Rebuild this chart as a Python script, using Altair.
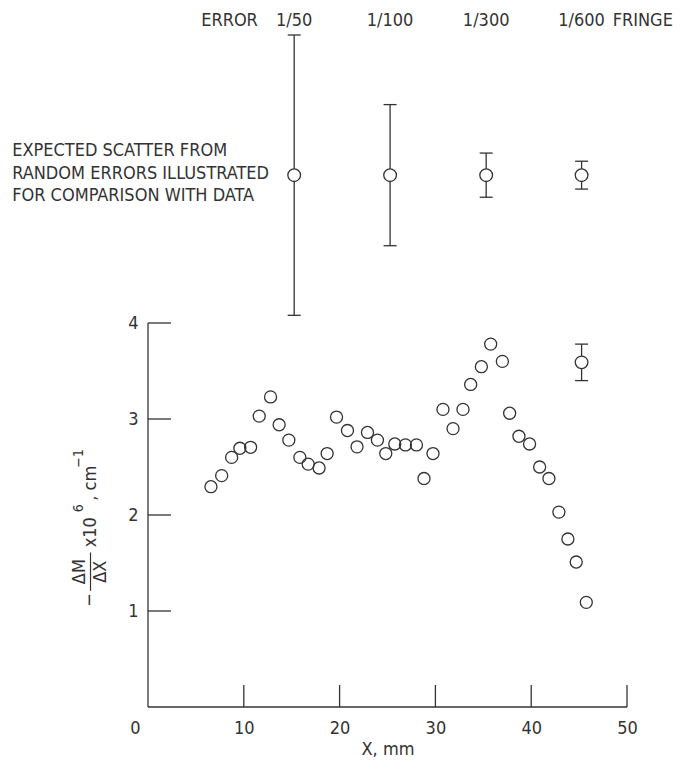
import altair as alt
import pandas as pd

# ---- data ----
x_mm = [6.57, 7.69, 8.73, 9.59, 10.71, 11.61, 12.79, 13.69, 14.70, 15.85,
        16.72, 17.86, 18.70, 19.68, 20.82, 21.82, 22.91, 23.95, 24.82, 25.76,
        26.87, 28.02, 28.81, 29.75, 30.79, 31.84, 32.88, 33.68, 34.80, 35.77,
        36.99, 37.75, 38.72, 39.83, 40.88, 41.85, 42.89, 43.83, 44.70, 45.75]
dm_dx = [2.295, 2.41, 2.60, 2.695, 2.705, 3.03, 3.23, 2.94, 2.78, 2.60,
         2.53, 2.49, 2.64, 3.02, 2.88, 2.71, 2.86, 2.78, 2.64, 2.74,
         2.73, 2.73, 2.38, 2.64, 3.10, 2.90, 3.10, 3.36, 3.545, 3.78,
         3.60, 3.06, 2.82, 2.74, 2.50, 2.38, 2.03, 1.75, 1.51, 1.09]

err_labels = ["1/50", "1/100", "1/300", "1/600"]
err_x = [15.26, 25.27, 35.3, 45.26]
err_center = [5.54, 5.54, 5.54, 5.54]
err_half = [1.46, 0.735, 0.23, 0.145]

sample_x = [45.26]
sample_y = [3.59]
sample_half = [0.19]

x_tick_values = [10, 20, 30, 40, 50]
x_label_values = [0, 10, 20, 30, 40, 50]
y_tick_values = [1, 2, 3, 4]

note_lines = ["EXPECTED SCATTER FROM", "RANDOM ERRORS ILLUSTRATED", "FOR COMPARISON WITH DATA"]

# ---- styling ----
FONT = "Liberation Sans Narrow, DejaVu Sans Condensed, sans-serif"
INK = "#333333"
YMAX = 7.25
PX_PER_Y = 96
W = 479
H = int(round(YMAX * PX_PER_Y))
FS = 18

xs = alt.Scale(domain=[0, 50], nice=False, zero=False)
ys = alt.Scale(domain=[0, YMAX], nice=False, zero=False)

data_df = pd.DataFrame({"x": x_mm, "y": dm_dx})
bars_df = pd.DataFrame({
    "x": err_x + sample_x,
    "c": err_center + sample_y,
    "lo": [c - h for c, h in zip(err_center + sample_y, err_half + sample_half)],
    "hi": [c + h for c, h in zip(err_center + sample_y, err_half + sample_half)],
})

x_axis = alt.Axis(values=x_label_values, ticks=False, domain=False, grid=False,
                  labelFlush=False, labelOverlap=False,
                  labelFont=FONT, labelFontSize=FS, labelColor=INK, labelPadding=12,
                  labelOffset={"condition": {"test": "datum.value == 0", "value": -13}, "value": 0},
                  title="X, mm", titleFont=FONT, titleFontSize=FS, titleFontWeight="normal",
                  titleColor=INK, titlePadding=3)
y_axis = alt.Axis(values=y_tick_values, format="d", ticks=False, domain=False, grid=False,
                  labelFlush=False,
                  labelFont=FONT, labelFontSize=FS, labelColor=INK, labelPadding=10,
                  title=None)

points = alt.Chart(data_df).mark_point(shape="circle", filled=False, size=145,
                                       strokeWidth=1.3, color=INK, opacity=1).encode(
    x=alt.X("x:Q", scale=xs, axis=x_axis),
    y=alt.Y("y:Q", scale=ys, axis=y_axis),
)

bar_rules = alt.Chart(bars_df).mark_rule(color=INK, strokeWidth=1.3).encode(
    x=alt.X("x:Q", scale=xs), y=alt.Y("lo:Q", scale=ys), y2="hi:Q")
cap_lo = alt.Chart(bars_df).mark_tick(orient="horizontal", size=13, thickness=1.3, color=INK, opacity=1).encode(
    x=alt.X("x:Q", scale=xs), y=alt.Y("lo:Q", scale=ys))
cap_hi = alt.Chart(bars_df).mark_tick(orient="horizontal", size=13, thickness=1.3, color=INK, opacity=1).encode(
    x=alt.X("x:Q", scale=xs), y=alt.Y("hi:Q", scale=ys))
bar_pts = alt.Chart(bars_df).mark_point(shape="circle", filled=True, fill="white", stroke=INK,
                                         strokeWidth=1.3, size=160, opacity=1, fillOpacity=1).encode(
    x=alt.X("x:Q", scale=xs), y=alt.Y("c:Q", scale=ys))

# axis frame and inward ticks
frame_df = pd.DataFrame({"x0": [0, 0], "x1": [0, 50], "y0": [0, 0], "y1": [4, 0]})
frame = alt.Chart(frame_df).mark_rule(color=INK, strokeWidth=1.3).encode(
    x=alt.X("x0:Q", scale=xs), x2="x1:Q", y=alt.Y("y0:Q", scale=ys), y2="y1:Q")
xt = alt.Chart(pd.DataFrame({"v": x_tick_values})).mark_rule(color=INK, strokeWidth=1.3).encode(
    x=alt.X("v:Q", scale=xs), y=alt.value(H), y2=alt.value(H - 22))
yt = alt.Chart(pd.DataFrame({"v": y_tick_values})).mark_rule(color=INK, strokeWidth=1.3).encode(
    y=alt.Y("v:Q", scale=ys), x=alt.value(0), x2=alt.value(23))

# header texts
HDR_Y = 7.15
hdr_df = pd.DataFrame({"t": err_labels, "x": err_x, "y": [HDR_Y] * 4})
hdr = alt.Chart(hdr_df).mark_text(font=FONT, fontSize=FS, color=INK, align="center", baseline="middle").encode(
    x=alt.X("x:Q", scale=xs), y=alt.Y("y:Q", scale=ys), text="t:N")
err_word = alt.Chart(pd.DataFrame({"t": ["ERROR"], "x": [11.47], "y": [HDR_Y]})).mark_text(
    font=FONT, fontSize=FS, color=INK, align="right", baseline="middle").encode(
    x=alt.X("x:Q", scale=xs), y=alt.Y("y:Q", scale=ys), text="t:N")
fringe = alt.Chart(pd.DataFrame({"t": ["FRINGE"], "x": [48.5], "y": [HDR_Y]})).mark_text(
    font=FONT, fontSize=FS, color=INK, align="left", baseline="middle").encode(
    x=alt.X("x:Q", scale=xs), y=alt.Y("y:Q", scale=ys), text="t:N")

note_df = pd.DataFrame({"t": note_lines, "x": [-14.18] * 3, "y": [5.79, 5.555, 5.32]})
note = alt.Chart(note_df).mark_text(font=FONT, fontSize=FS, color=INK, align="left", baseline="middle").encode(
    x=alt.X("x:Q", scale=xs), y=alt.Y("y:Q", scale=ys), text="t:N")

# y-axis label built from pieces (rotated)
ylab_df = pd.DataFrame({
    "t": ["\u2212", "\u0394M", "\u0394X", "x10", ", cm"],
    "x": [-6.05, -7.05, -4.95, -5.94, -5.94],
    "y": [1.115, 1.41, 1.41, 1.82, 2.33],
})
ylab = alt.Chart(ylab_df).mark_text(font=FONT, fontSize=FS, color=INK, angle=270,
                                    align="center", baseline="middle").encode(
    x=alt.X("x:Q", scale=xs), y=alt.Y("y:Q", scale=ys), text="t:N")
ysup_df = pd.DataFrame({"t": ["6", "\u22121"], "x": [-7.2, -7.2], "y": [2.07, 2.59]})
ysup = alt.Chart(ysup_df).mark_text(font=FONT, fontSize=14, color=INK, angle=270,
                                    align="center", baseline="middle").encode(
    x=alt.X("x:Q", scale=xs), y=alt.Y("y:Q", scale=ys), text="t:N")
frac_df = pd.DataFrame({"x": [-6.0], "y0": [1.21], "y1": [1.61]})
frac = alt.Chart(frac_df).mark_rule(color=INK, strokeWidth=1.2).encode(
    x=alt.X("x:Q", scale=xs), y=alt.Y("y0:Q", scale=ys), y2="y1:Q")

chart = alt.layer(
    points, frame, xt, yt, bar_rules, cap_lo, cap_hi, bar_pts,
    hdr, err_word, fringe, note, ylab, ysup, frac,
).properties(
    width=W, height=H, background="white",
    padding={"left": 4, "top": 3, "right": 0, "bottom": 0},
).configure_view(strokeWidth=0)

chart.save("out.html", embed_options={"renderer": "svg", "actions": False})
